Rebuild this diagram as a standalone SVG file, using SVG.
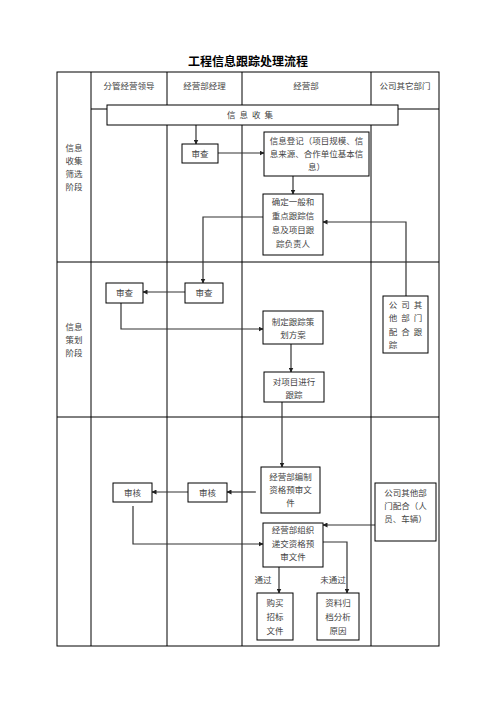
<svg xmlns="http://www.w3.org/2000/svg" width="496" height="702" viewBox="0 0 496 702">
<defs>
<marker id="ah" viewBox="0 0 10 10" refX="9" refY="5" markerWidth="5" markerHeight="5" orient="auto" markerUnits="userSpaceOnUse"><path d="M0,0 L10,5 L0,10 z" fill="#222"/></marker>
<style>
.t{font-family:"Noto Sans CJK SC","Noto Sans",sans-serif;font-size:8.5px;fill:#444;text-anchor:middle}
.b{fill:#fff;stroke:#000;stroke-width:1}
.g{stroke:#000;stroke-width:1;fill:none}
.c{stroke:#333;stroke-width:1.2;fill:none}
.ca{stroke:#333;stroke-width:1.2;fill:none;marker-end:url(#ah)}
</style>
</defs>
<rect width="496" height="702" fill="#fff"/>
<text x="248" y="66" style="font-family:'Noto Sans CJK SC',sans-serif;font-size:12px;font-weight:bold;text-anchor:middle;fill:#000">工程信息跟踪处理流程</text>
<g id="grid" class="g">
<rect x="57" y="72" width="382" height="574"/>
<line x1="91" y1="72" x2="91" y2="646"/>
<line x1="167" y1="72" x2="167" y2="646"/>
<line x1="242" y1="72" x2="242" y2="646"/>
<line x1="371" y1="72" x2="371" y2="646"/>
<line x1="91" y1="109" x2="439" y2="109"/>
<line x1="57" y1="262" x2="439" y2="262"/>
<line x1="57" y1="417" x2="439" y2="417"/>
</g>
<g id="headers">
<text class="t" x="129" y="89">分管经营领导</text>
<text class="t" x="204.5" y="89">经营部经理</text>
<text class="t" x="306" y="89">经营部</text>
<text class="t" x="405" y="89">公司其它部门</text>
<text class="t" x="74" y="151">信息</text>
<text class="t" x="74" y="164">收集</text>
<text class="t" x="74" y="177">筛选</text>
<text class="t" x="74" y="190">阶段</text>
<text class="t" x="74" y="330">信息</text>
<text class="t" x="74" y="343">策划</text>
<text class="t" x="74" y="356">阶段</text>
</g>
<g id="connectors">
<line class="ca" x1="196" y1="125" x2="196" y2="144"/>
<line class="ca" x1="218" y1="153" x2="264" y2="153"/>
<line class="ca" x1="293" y1="176" x2="293" y2="194"/>
<polyline class="ca" points="263,217 203,217 203,283"/>
<polyline class="ca" points="406,296 406,222 323,222"/>
<line class="ca" x1="185" y1="292" x2="143" y2="292"/>
<polyline class="ca" points="121,303 121,329 263,329"/>
<line class="ca" x1="291" y1="344" x2="291" y2="372"/>
<line class="ca" x1="282" y1="402" x2="282" y2="467"/>
<line class="ca" x1="256" y1="492" x2="227" y2="492"/>
<line class="ca" x1="188" y1="492" x2="152" y2="492"/>
<polyline class="ca" points="133,506 133,544 263,544"/>
<line class="ca" x1="375" y1="525" x2="323" y2="525"/>
<polyline class="ca" points="323,542 347,542 347,593"/>
<line class="ca" x1="279" y1="567" x2="279" y2="593"/>
<text class="t" x="263" y="583">通过</text>
<text class="t" x="333" y="583">未通过</text>
</g>
<g id="n-collect"><rect class="b" x="107" y="105" width="291" height="20"/><text class="t" x="252" y="118" style="letter-spacing:4px">信息收集</text></g>
<g id="n-review1"><rect class="b" x="182" y="144" width="36" height="19"/><text class="t" x="200" y="156.5">审查</text></g>
<g id="n-register"><rect class="b" x="264" y="132" width="105" height="44"/><text class="t" x="316.5" y="144">信息登记（项目规模、信</text><text class="t" x="316.5" y="157">息来源、合作单位基本信</text><text class="t" x="316.5" y="170">息）</text></g>
<g id="n-determine"><rect class="b" x="263" y="194" width="60" height="61"/><text class="t" x="293" y="205">确定一般和</text><text class="t" x="293" y="219">重点跟踪信</text><text class="t" x="293" y="233">息及项目跟</text><text class="t" x="293" y="247">踪负责人</text></g>
<g id="n-review2"><rect class="b" x="185" y="283" width="38" height="20"/><text class="t" x="204" y="296">审查</text></g>
<g id="n-review3"><rect class="b" x="106" y="283" width="37" height="20"/><text class="t" x="124.5" y="296">审查</text></g>
<g id="n-plan"><rect class="b" x="263" y="311" width="60" height="33"/><text class="t" x="293" y="325">制定跟踪策</text><text class="t" x="293" y="338">划方案</text></g>
<g id="n-track"><rect class="b" x="264" y="372" width="60" height="30"/><text class="t" x="294" y="385">对项目进行</text><text class="t" x="294" y="398">跟踪</text></g>
<g id="n-other1"><rect class="b" x="383" y="296" width="45" height="57"/><text class="t" x="393" y="308">公</text><text class="t" x="405.5" y="308">司</text><text class="t" x="418" y="308">其</text><text class="t" x="393" y="321">他</text><text class="t" x="405.5" y="321">部</text><text class="t" x="418" y="321">门</text><text class="t" x="393" y="335">配</text><text class="t" x="405.5" y="335">合</text><text class="t" x="418" y="335">跟</text><text class="t" x="393" y="348">踪</text></g>
<g id="n-compile"><rect class="b" x="261" y="467" width="59" height="46"/><text class="t" x="290.5" y="480">经营部编制</text><text class="t" x="290.5" y="493">资格预审文</text><text class="t" x="290.5" y="506">件</text></g>
<g id="n-check1"><rect class="b" x="188" y="483" width="39" height="19"/><text class="t" x="207.5" y="495.5">审核</text></g>
<g id="n-check2"><rect class="b" x="113" y="483" width="39" height="19"/><text class="t" x="132.5" y="495.5">审核</text></g>
<g id="n-submit"><rect class="b" x="263" y="523" width="60" height="44"/><text class="t" x="293" y="533">经营部组织</text><text class="t" x="293" y="547">递交资格预</text><text class="t" x="293" y="560">审文件</text></g>
<g id="n-other2"><rect class="b" x="375" y="483" width="61" height="58"/><text class="t" x="405.5" y="496">公司其他部</text><text class="t" x="405.5" y="509">门配合（人</text><text class="t" x="405.5" y="522">员、车辆）</text></g>
<g id="n-buy"><rect class="b" x="257" y="593" width="36" height="47"/><text class="t" x="275" y="606">购买</text><text class="t" x="275" y="620">招标</text><text class="t" x="275" y="634">文件</text></g>
<g id="n-archive"><rect class="b" x="317" y="593" width="42" height="47"/><text class="t" x="338" y="606">资料归</text><text class="t" x="338" y="620">档分析</text><text class="t" x="338" y="634">原因</text></g>
</svg>
